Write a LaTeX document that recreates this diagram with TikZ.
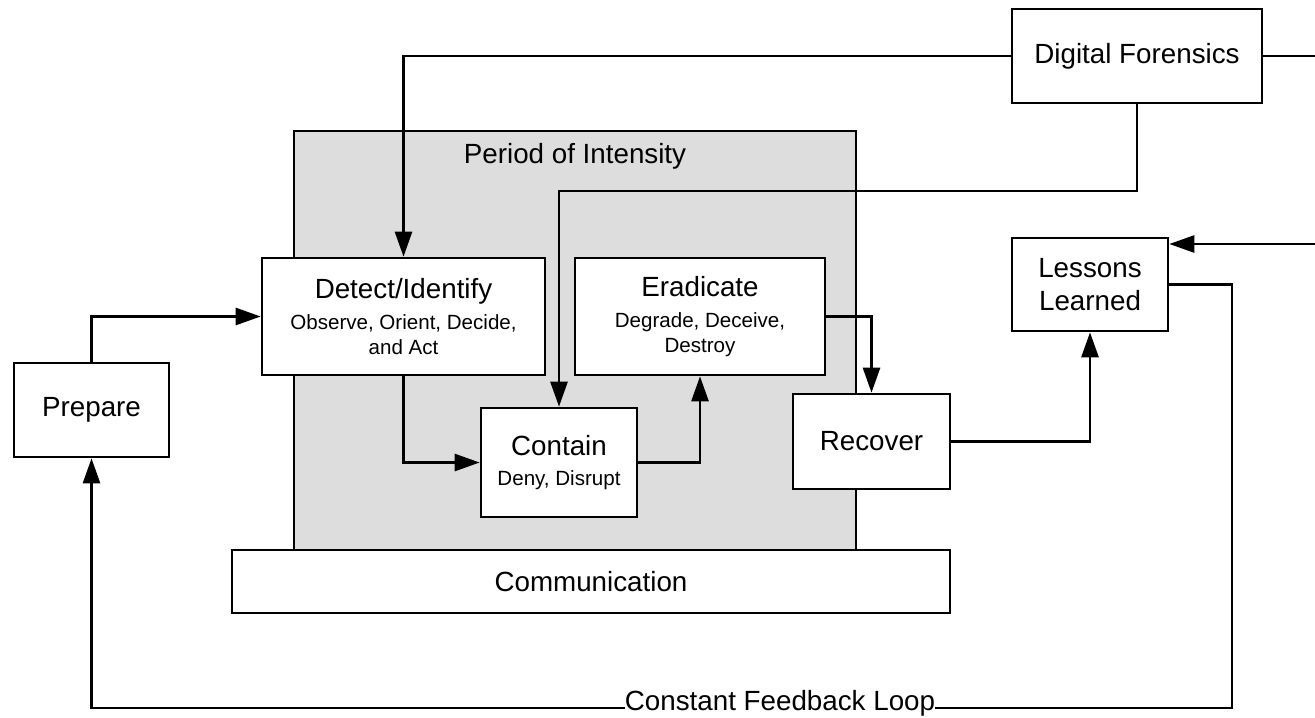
\documentclass[tikz,border=0pt]{standalone}
\usepackage{fontspec}
\setmainfont{Liberation Sans}
\usepackage{tikz}
\usetikzlibrary{arrows.meta}
\definecolor{intensityGray}{RGB}{221,221,221}
\newcommand{\stageFont}{\fontsize{15.8}{19}\selectfont}
\newcommand{\detailFont}{\fontsize{11.7}{14}\selectfont}
\tikzstyle{stageBox} = [draw, line width=1.5pt, fill=white, align=center,
   font=\stageFont, inner sep=2pt]
\tikzstyle{intensityBox} = [draw, line width=1.5pt, fill=intensityGray]
\tikzstyle{flowLine} = [line width=1.5pt]
\tikzstyle{flowArrow} = [line width=1.5pt, -{Triangle[length=5mm,width=3.4mm]}]

\begin{document}
\begin{tikzpicture} %[x=0.02cm,y=-0.02cm]
  \useasboundingbox (0,0) rectangle (26.3,-14.34);
  \node[intensityBox, minimum width=11.24cm, minimum height=8.38cm] (poi) at (11.5,-6.81) {};
  \node[font=\stageFont] (poiLabel) at (11.5,-3.12) {Period of Intensity};
  \node[stageBox, minimum width=5cm, minimum height=1.88cm] (df) at (22.74,-1.12) {Digital Forensics};
  \node[stageBox, minimum width=3.12cm, minimum height=1.86cm] (ll) at (21.8,-5.69) {Lessons\\Learned};
  \node[stageBox, minimum width=3.1cm, minimum height=1.88cm] (prep) at (1.83,-8.2) {Prepare};
  \node[stageBox, minimum width=5.66cm, minimum height=2.34cm] (det) at (8.07,-6.33)
    {Detect/Identify\\[-1.5pt]\detailFont Observe, Orient, Decide,\\[-5pt]\detailFont and Act};
  \node[stageBox, minimum width=5cm, minimum height=2.34cm] (erad) at (14,-6.33)
    {Eradicate\\[-1.5pt]\detailFont Degrade, Deceive,\\[-5pt]\detailFont Destroy};
  \node[stageBox, minimum width=3.12cm, minimum height=2.18cm] (cont) at (11.18,-9.25)
    {Contain\\[-2pt]\detailFont Deny, Disrupt};
  \node[stageBox, minimum width=3.14cm, minimum height=1.9cm] (rec) at (17.43,-8.83) {Recover};
  \node[stageBox, minimum width=14.36cm, minimum height=1.26cm] (comm) at (11.82,-11.63) {Communication};
  \coordinate (dfOut) at (26.3,-1.12);
  \coordinate (dfTurn) at (0,-3.82);
  \coordinate (llIn) at (26.3,-4.88);
  \coordinate (loopCorner) at (24.64,-14.16);
  \draw [flowArrow] (df.west) -| (det.north);
  \draw [flowLine] (df.east) -- (dfOut);
  \draw [flowArrow] (df.south) |- (cont.north |- dfTurn) -- (cont.north);
  \draw [flowArrow] (llIn) -- (ll.east |- llIn);
  \draw [flowArrow] (ll.east) -| (loopCorner) -| (prep.south);
  \draw [flowArrow] (prep.north) |- (det.west);
  \draw [flowArrow] (det.south) |- (cont.west);
  \draw [flowArrow] (cont.east) -| (erad.south);
  \draw [flowArrow] (erad.east) -| (rec.north);
  \draw [flowArrow] (rec.east) -| (ll.south);
  \node[fill=white, font=\stageFont, inner xsep=0pt, inner ysep=1pt] (loopLabel) at (15.6,-14.06) {Constant Feedback Loop};
\end{tikzpicture}
\end{document}
